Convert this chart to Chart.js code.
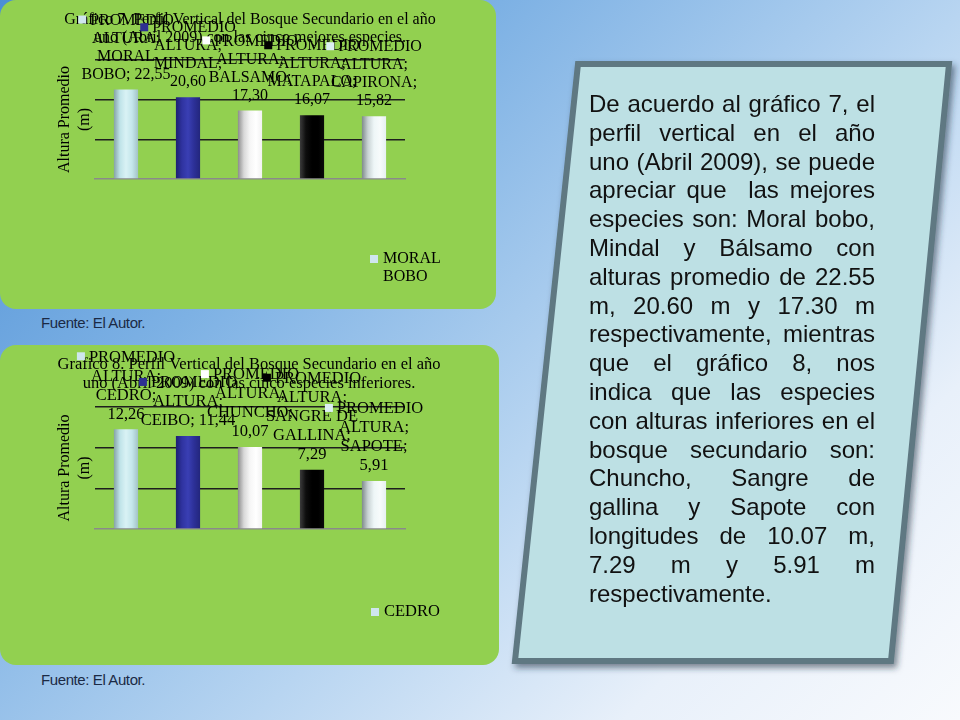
<!DOCTYPE html>
<html lang="es">
<head>
<meta charset="utf-8">
<script src="https://cdn.jsdelivr.net/npm/chart.js@4.4.1/dist/chart.umd.min.js"></script>
<style>
  html, body { margin: 0; padding: 0; }
  body {
    width: 960px; height: 720px; position: relative; overflow: hidden;
    background: linear-gradient(135deg, #4b8ed5 0%, #7db1e4 30%, #b8d5f1 58%, #e8f0fa 80%, #f8fafd 100%);
    font-family: "Liberation Sans", Arial, sans-serif;
  }
  .panel { position: absolute; left: 0; background: #92d050; border-radius: 16px; }
  .panel canvas { position: absolute; left: 0; top: 0; }
  .source { position: absolute; left: 41px; font-size: 15px; line-height: 15px; color: #1b2a45; letter-spacing: -0.4px; }
  .box { position: absolute; left: 0; top: 0; }
  .note { position: absolute; left: 589px; top: 90px; width: 286px; font-size: 24px; line-height: 28.8px; color: #111; }
  .note div { white-space: nowrap; text-align: justify; text-align-last: justify; }
  .note div.last { text-align: left; text-align-last: left; }
</style>
</head>
<body>

<div class="panel" style="top:0; width:496px; height:309px;">
  <canvas id="bestChart" width="496" height="309"></canvas>
</div>
<div class="source" style="top:315px;">Fuente: El Autor.</div>

<div class="panel" style="top:345px; width:499px; height:320px;">
  <canvas id="worstChart" width="499" height="320"></canvas>
</div>
<div class="source" style="top:672px;">Fuente: El Autor.</div>

<svg class="box" width="960" height="720">
  <defs>
    <filter id="sh" x="-10%" y="-10%" width="130%" height="130%">
      <feDropShadow dx="3" dy="4" stdDeviation="3" flood-color="#1d3340" flood-opacity="0.55"/>
    </filter>
  </defs>
  <polygon points="578,64 949,64 891,661 515,661" fill="#bde0e4" stroke="#5f7882" stroke-width="6" filter="url(#sh)"/>
</svg>

<div class="note">
  <div>De acuerdo al gráfico 7, el</div>
  <div>perfil vertical en el año</div>
  <div>uno (Abril 2009), se puede</div>
  <div>apreciar que&nbsp; las mejores</div>
  <div>especies son: Moral bobo,</div>
  <div>Mindal y Bálsamo con</div>
  <div>alturas promedio de 22.55</div>
  <div>m, 20.60 m y 17.30 m</div>
  <div>respectivamente, mientras</div>
  <div>que el gráfico 8, nos</div>
  <div>indica que las especies</div>
  <div>con alturas inferiores en el</div>
  <div>bosque secundario son:</div>
  <div>Chuncho, Sangre de</div>
  <div>gallina y Sapote con</div>
  <div>longitudes de 10.07 m,</div>
  <div>7.29 m y 5.91 m</div>
  <div class="last">respectivamente.</div>
</div>

<script>
// datos de los dos graficos
const SERIES_NAME = 'PROMEDIO ALTURA';
const Y_TITLE = ['Altura Promedio', '(m)'];

const BEST_TITLE = ['Gráfico 7. Perfil Vertical del Bosque Secundario en el año',
                    'uno (Abril 2009) con las cinco mejores especies.'];
const BEST_SPECIES = ['MORAL BOBO', 'MINDAL', 'BALSAMO', 'MATAPALO', 'CAPIRONA'];
const BEST_HEIGHTS = [22.55, 20.60, 17.30, 16.07, 15.82];

const WORST_TITLE = ['Gráfico 8. Perfil Vertical del Bosque Secundario en el año',
                     'uno (Abril 2009) con las cinco especies inferiores.'];
const WORST_SPECIES = ['CEDRO', 'CEIBO', 'CHUNCHO', 'SANGRE DE GALLINA', 'SAPOTE'];
const WORST_HEIGHTS = [12.26, 11.44, 10.07, 7.29, 5.91];

// colores de las barras (efecto cilindro) y de las claves
const BAR_SHADES = [
  ['#86a3a6', '#bfe3e8', '#d9f2f5', '#c4e6eb', '#a3c2c6'],
  ['#1d2070', '#2f33a0', '#3a3fb4', '#2c3097', '#23267d'],
  ['#8c8c8c', '#d8d8d8', '#f6f6f6', '#ffffff', '#f2f2f2'],
  ['#3c3c3c', '#0d0d0d', '#000000', '#000000', '#0a0a0a'],
  ['#7f8a8b', '#c9d3d4', '#eef6f7', '#f7fbfb', '#e6f0f1']
];
const KEY_COLORS = ['#cfe6ee', '#2e3192', '#ffffff', '#000000', '#dceff3'];
const KEY = 8;
const BAR_PCT = 0.39;

const fmt = v => v.toFixed(2).replace('.', ',');

function wrap(ctx, text, maxW) {
  const words = text.split(' ');
  const lines = [];
  let cur = '';
  words.forEach(w => {
    const t = cur ? cur + ' ' + w : w;
    if (cur && ctx.measureText(t).width > maxW) { lines.push(cur); cur = w; }
    else cur = t;
  });
  if (cur) lines.push(cur);
  return lines;
}

function barFill(c) {
  const chart = c.chart;
  const area = chart.chartArea;
  if (!area || c.dataIndex === undefined) return KEY_COLORS[0];
  const s = BAR_SHADES[c.dataIndex % BAR_SHADES.length];
  const x = chart.scales.x.getPixelForValue(c.dataIndex);
  const half = area.width / chart.data.labels.length * BAR_PCT / 2;
  const g = chart.ctx.createLinearGradient(x - half, 0, x + half, 0);
  s.forEach((col, i) => g.addColorStop(i / (s.length - 1), col));
  return g;
}

// titulo, etiquetas de datos (con clave) y leyenda como en PowerPoint
const slideText = {
  id: 'slideText',
  afterDatasetsDraw(chart, args, o) {
    const ctx = chart.ctx;
    const meta = chart.getDatasetMeta(0);
    const ds = chart.data.datasets[0];
    ctx.save();
    ctx.fillStyle = '#000';
    ctx.textBaseline = 'middle';
    ctx.font = o.size + 'px "Liberation Serif"';

    ctx.textAlign = 'center';
    o.title.forEach((t, i) => ctx.fillText(t, o.titleX, o.titleY + i * o.lineGap));

    ctx.textAlign = 'left';
    meta.data.forEach((bar, i) => {
      const text = ds.label + '; ' + chart.data.labels[i] + '; ' + fmt(ds.data[i]);
      const lines = wrap(ctx, text, o.wrap);
      const lastY = bar.y - 15;
      lines.forEach((ln, j) => {
        const y = lastY - (lines.length - 1 - j) * o.lineGap;
        const w = ctx.measureText(ln).width + (j === 0 ? KEY + 4 : 0);
        let x = bar.x - w / 2;
        if (j === 0) {
          ctx.fillStyle = KEY_COLORS[i];
          ctx.fillRect(x, y - KEY / 2 - 1, KEY, KEY);
          ctx.fillStyle = '#000';
          x += KEY + 4;
        }
        ctx.fillText(ln, x, y);
      });
    });

    // la leyenda solo alcanza a mostrar la primera especie
    const leg = wrap(ctx, chart.data.labels[0], o.legendWrap);
    ctx.fillStyle = KEY_COLORS[0];
    ctx.fillRect(o.legendX, o.legendY - KEY / 2, KEY, KEY);
    ctx.fillStyle = '#000';
    leg.forEach((ln, j) => ctx.fillText(ln, o.legendX + KEY + 5, o.legendY + j * o.lineGap));
    ctx.restore();
  }
};

function makeChart(id, title, species, heights, cfg) {
  return new Chart(document.getElementById(id), {
    type: 'bar',
    data: {
      labels: species,
      datasets: [{
        label: SERIES_NAME,
        data: heights,
        backgroundColor: barFill,
        borderWidth: 0,
        barPercentage: BAR_PCT,
        categoryPercentage: 1
      }]
    },
    options: {
      responsive: false,
      animation: false,
      layout: { padding: cfg.padding },
      plugins: {
        legend: { display: false },
        title: { display: false },
        tooltip: { enabled: false },
        slideText: {
          title: title, titleX: cfg.titleX, titleY: 20,
          size: cfg.size, lineGap: cfg.lineGap, wrap: 97.5,
          legendX: cfg.legendX, legendY: cfg.legendY, legendWrap: 70
        }
      },
      scales: {
        x: {
          ticks: { display: false },
          grid: { display: false },
          border: { color: '#8a8a8a', width: 1.5 },
          afterFit: s => { s.height = 0; }
        },
        y: {
          min: 0,
          max: cfg.max,
          ticks: { display: false, stepSize: cfg.step },
          grid: {
            drawTicks: false,
            lineWidth: 1.4,
            color: c => (c.tick && c.tick.value === 0) ? 'rgba(0,0,0,0)' : '#1e1e1e'
          },
          border: { display: false },
          title: {
            display: true,
            text: Y_TITLE,
            color: '#000',
            padding: 0,
            font: { family: '"Liberation Serif"', size: 16, lineHeight: 1.25 }
          },
          afterFit: s => { s.width = 40; }
        }
      }
    },
    plugins: [slideText]
  });
}

makeChart('bestChart', BEST_TITLE, BEST_SPECIES, BEST_HEIGHTS, {
  padding: { left: 55, right: 91, top: 60, bottom: 130 },
  max: 30, step: 10, titleX: 250, size: 16, lineGap: 18,
  legendX: 370, legendY: 259
});

makeChart('worstChart', WORST_TITLE, WORST_SPECIES, WORST_HEIGHTS, {
  padding: { left: 55, right: 94, top: 62, bottom: 136 },
  max: 15, step: 5, titleX: 249, size: 16.5, lineGap: 19,
  legendX: 371, legendY: 267
});
</script>
</body>
</html>
